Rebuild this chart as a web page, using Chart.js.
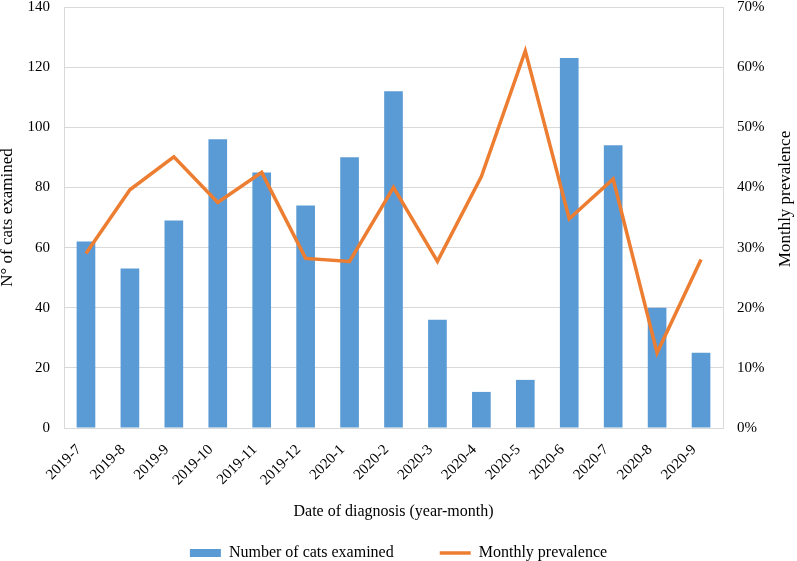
<!DOCTYPE html>
<html>
<head>
<meta charset="utf-8">
<script src="https://cdn.jsdelivr.net/npm/chart.js@4"></script>
<style>
  html, body { margin: 0; padding: 0; background: #fff; }
  #wrap { width: 797px; height: 561px; }
</style>
</head>
<body>
<div id="wrap"><canvas id="myChart"></canvas></div>
<script>
const months = ["2019-7", "2019-8", "2019-9", "2019-10", "2019-11", "2019-12", "2020-1", "2020-2",
  "2020-3", "2020-4", "2020-5", "2020-6", "2020-7", "2020-8", "2020-9"];
const catsExamined = [62, 53, 69, 96, 85, 74, 90, 112, 36, 12, 16, 123, 94, 40, 25];
const prevalence = [0.29, 0.396, 0.451, 0.375, 0.425, 0.282, 0.277, 0.40, 0.277, 0.418, 0.627, 0.348, 0.414, 0.125, 0.28];

const serif = "'Liberation Serif', 'Times New Roman', serif";
const gridColor = "#d9d9d9";

// right axis title reads bottom-to-top like the left one
const rightTitle = {
  id: "rightTitle",
  afterDraw(chart) {
    const ctx = chart.ctx;
    ctx.save();
    ctx.translate(786, 199);
    ctx.rotate(-Math.PI / 2);
    ctx.font = "17px " + serif;
    ctx.fillStyle = "#000";
    ctx.textAlign = "center";
    ctx.textBaseline = "middle";
    ctx.fillText("Monthly prevalence", 0, 0);
    ctx.restore();
  }
};

new Chart(document.getElementById("myChart").getContext("2d"), {
  type: "bar",
  data: {
    labels: months,
    datasets: [
      {
        label: "Number of cats examined",
        data: catsExamined,
        backgroundColor: "#5b9bd5",
        borderWidth: 0,
        categoryPercentage: 1,
        barPercentage: 0.425,
        pointStyle: "rect",
        order: 1,
        yAxisID: "y"
      },
      {
        type: "line",
        label: "Monthly prevalence",
        data: prevalence,
        borderColor: "#ed7d31",
        backgroundColor: "#ed7d31",
        borderWidth: 3.5,
        pointRadius: 0,
        tension: 0,
        pointStyle: "line",
        order: 0,
        yAxisID: "y1"
      }
    ]
  },
  options: {
    responsive: true,
    maintainAspectRatio: false,
    animation: false,
    layout: { padding: { top: 7, left: 0, right: 0, bottom: -10 } },
    plugins: {
      tooltip: { enabled: false },
      legend: {
        position: "bottom",
        labels: {
          usePointStyle: true,
          pointStyleWidth: 31,
          boxHeight: 8,
          padding: 46,
          color: "#000",
          font: { family: serif, size: 16 },
          sort: (a, b) => a.datasetIndex - b.datasetIndex
        }
      }
    },
    scales: {
      x: {
        grid: { display: false, drawTicks: false },
        border: { display: true, color: gridColor },
        ticks: {
          color: "#000",
          font: { family: serif, size: 15 },
          minRotation: 45,
          maxRotation: 45,
          padding: 13,
          labelOffset: -7
        },
        title: {
          display: true,
          text: "Date of diagnosis (year-month)",
          color: "#000",
          font: { family: serif, size: 16 },
          padding: { top: 0, bottom: -22.6 }
        },
        afterFit(scale) {
          scale.height = 71;
          scale.paddingLeft = 0;
          scale.paddingRight = 0;
        }
      },
      y: {
        position: "left",
        min: 0,
        max: 140,
        ticks: {
          stepSize: 20,
          color: "#000",
          font: { family: serif, size: 15 },
          padding: 14
        },
        grid: { color: gridColor, drawTicks: false },
        border: { display: true, color: gridColor },
        title: {
          display: true,
          text: "N° of cats examined",
          color: "#000",
          font: { family: serif, size: 17 },
          padding: { top: -3, bottom: 0 }
        },
        afterFit(scale) {
          scale.width = 64;
          scale.paddingTop = 0;
          scale.paddingBottom = 0;
        }
      },
      y1: {
        position: "right",
        min: 0,
        max: 0.7,
        ticks: {
          stepSize: 0.1,
          color: "#000",
          font: { family: serif, size: 15 },
          padding: 14,
          callback: (v) => Math.round(v * 100) + "%"
        },
        grid: { display: false, drawTicks: false },
        border: { display: true, color: gridColor },
        afterFit(scale) {
          scale.width = 74;
          scale.paddingTop = 0;
          scale.paddingBottom = 0;
        }
      }
    }
  },
  plugins: [rightTitle]
});
</script>
</body>
</html>
